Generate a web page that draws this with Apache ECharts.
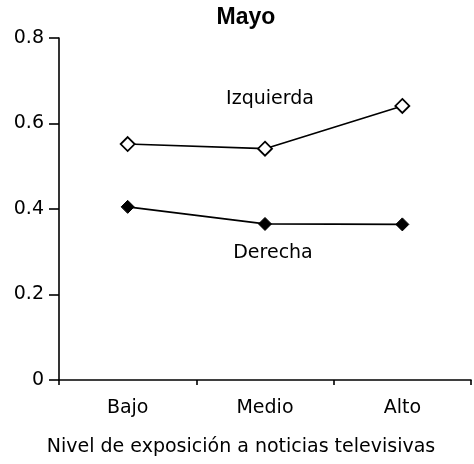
<!DOCTYPE html>
<html>
<head>
<meta charset="utf-8">
<script src="https://cdn.jsdelivr.net/npm/echarts@6/dist/echarts.min.js"></script>
<style>html,body{margin:0;padding:0;background:#fff}#c{width:474px;height:464px}</style>
</head>
<body>
<div id="c"></div>
<script>
const categories = ['Bajo', 'Medio', 'Alto'];
const izquierda = [0.552, 0.541, 0.641];
const derecha = [0.405, 0.365, 0.364];
const yTicks = [0, 0.2, 0.4, 0.6, 0.8];
const titleText = 'Mayo';
const xName = 'Nivel de exposición a noticias televisivas';
const seriesNames = ['Izquierda', 'Derecha'];

const FONT = '"DejaVu Sans", sans-serif';
const TITLE_FONT = '"Liberation Sans", Arial, sans-serif';
const chart = echarts.init(document.getElementById('c'), null, {renderer: 'canvas'});
chart.setOption({
  animation: false,
  backgroundColor: '#fff',
  grid: {left: 59, right: 3, top: 38, bottom: 84, containLabel: false},
  xAxis: {
    type: 'category',
    data: categories,
    boundaryGap: true,
    axisLine: {lineStyle: {color: '#000', width: 1.6}},
    axisTick: {show: true, length: 5, lineStyle: {color: '#000', width: 1.6}},
    axisLabel: {color: '#000', fontFamily: FONT, fontSize: 19, margin: 19}
  },
  yAxis: {
    type: 'value',
    min: yTicks[0],
    max: yTicks[yTicks.length - 1],
    interval: 0.2,
    splitLine: {show: false},
    axisLine: {show: true, lineStyle: {color: '#000', width: 1.6}},
    axisTick: {show: true, length: 10, lineStyle: {color: '#000', width: 1.6}},
    axisLabel: {color: '#000', fontFamily: FONT, fontSize: 19, margin: 15,
      formatter: v => String(Math.round(v * 10) / 10)}
  },
  graphic: [
    {type: 'text', x: 246, y: 18, style: {text: titleText, fill: '#000', font: 'bold 23px ' + TITLE_FONT, align: 'center', verticalAlign: 'middle'}},
    {type: 'text', x: 241, y: 447, style: {text: xName, fill: '#000', font: '19px ' + FONT, align: 'center', verticalAlign: 'middle'}},
    {type: 'text', x: 270, y: 99, style: {text: seriesNames[0], fill: '#000', font: '19px ' + FONT, align: 'center', verticalAlign: 'middle'}},
    {type: 'text', x: 273, y: 253, style: {text: seriesNames[1], fill: '#000', font: '19px ' + FONT, align: 'center', verticalAlign: 'middle'}}
  ],
  series: [
    {
      name: seriesNames[0], type: 'line', data: izquierda,
      symbol: 'diamond', symbolSize: 14, showAllSymbol: true,
      lineStyle: {color: '#000', width: 1.7},
      itemStyle: {color: '#fff', borderColor: '#000', borderWidth: 1.8},
      z: 3
    },
    {
      name: seriesNames[1], type: 'line', data: derecha,
      symbol: 'diamond', symbolSize: 13, showAllSymbol: true,
      lineStyle: {color: '#000', width: 1.7},
      itemStyle: {color: '#000', borderColor: '#000', borderWidth: 1},
      z: 3
    }
  ]
});
</script>
</body>
</html>
